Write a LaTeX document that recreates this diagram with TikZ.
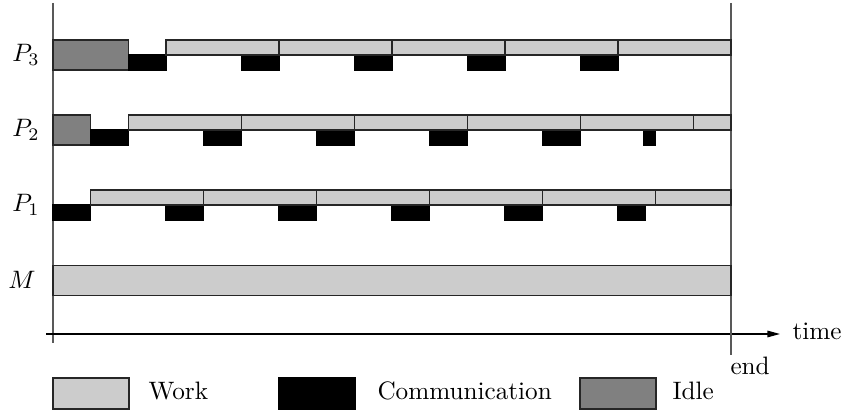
\documentclass[tikz,border=0pt]{standalone}
\usetikzlibrary{arrows.meta}
\begin{document}
\begin{tikzpicture}[x=0.3968pt,y=-0.3968pt,
  work/.style={fill=black!20,draw=black!85,line width=0.5pt},
  comm/.style={fill=black,draw=black,line width=0.5pt},
  idle/.style={fill=black!50,draw=black!85,line width=0.5pt},
  axis/.style={draw=black!65,line width=0.6pt},
  lbl/.style={inner sep=0pt}]
\useasboundingbox (0,0) rectangle (841,414);
\def\u{37.667}
% axes
\coordinate (ytop) at (53,3);
\coordinate (ybot) at (53,343);
\coordinate (xl) at (46,334);
\coordinate (xr) at (780,334);
\coordinate (etop) at (731,3);
\coordinate (ebot) at (731,355);
\draw[axis] (ytop) -- (ybot);
\draw[line width=0.5pt,-{Triangle[length=5pt,width=2.6pt]}] (xl) -- (xr);
\draw[axis] (etop) -- (ebot);
\node[anchor=west,inner sep=0pt] (time) at (792,331) {time};
\node[anchor=north west,inner sep=0pt] (end) at (730,357) {end};
% P3
\draw[idle] (53,40) rectangle (53+2*\u,70);
\foreach \a/\b in {2/3,5/6,8/9,11/12,14/15}
  \draw[comm] (53+\a*\u,55) rectangle (53+\b*\u,70);
\foreach \a/\b in {3/6,6/9,9/12,12/15,15/18}
  \draw[work] (53+\a*\u,40) rectangle (53+\b*\u,55);
% P2
\draw[idle] (53,115) rectangle (53+\u,145);
\foreach \a/\b in {1/2,4/5,7/8,10/11,13/14,15.68/16}
  \draw[comm] (53+\a*\u,130) rectangle (53+\b*\u,145);
\foreach \a/\b in {2/5,5/8,8/11,11/14,14/17,17/18}
  \draw[work] (53+\a*\u,115) rectangle (53+\b*\u,130);
% P1
\foreach \a/\b in {0/1,3/4,6/7,9/10,12/13,15/15.72}
  \draw[comm] (53+\a*\u,205) rectangle (53+\b*\u,220);
\foreach \a/\b in {1/4,4/7,7/10,10/13,13/16,16/18}
  \draw[work] (53+\a*\u,190) rectangle (53+\b*\u,205);
% M
\draw[work] (53,265.7) rectangle (731,295.7);
% labels
\node (p3) at (26,55) {$P_3$};
\node (p2) at (26,130) {$P_2$};
\node (p1) at (26,205) {$P_1$};
\node (m) at (22,280) {$M$};
% legend
\draw[work] (53,378) rectangle (129,409);
\draw[comm] (279,378) rectangle (355,409);
\draw[idle] (580,378) rectangle (656,409);
\node[anchor=west,inner sep=0pt] (lw) at (148,391) {Work};
\node[anchor=west,inner sep=0pt] (lc) at (377,391) {Communication};
\node[anchor=west,inner sep=0pt] (li) at (672,391) {Idle};
\end{tikzpicture}
\end{document}
